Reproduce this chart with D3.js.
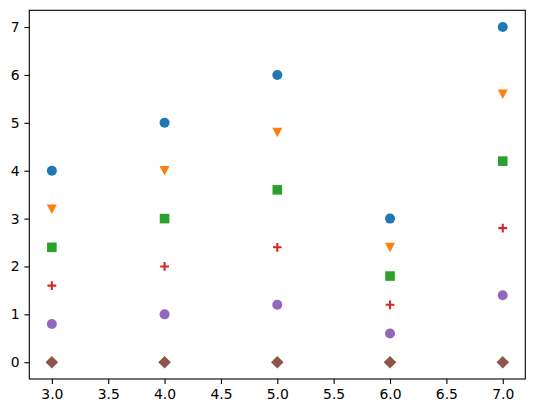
<!DOCTYPE html>
<html>
<head>
<meta charset="utf-8">
<script src="https://cdn.jsdelivr.net/npm/d3@7"></script>
<style>
  body { margin: 0; background: #fff; }
  svg { display: block; }
  .tick text { font-family: "DejaVu Sans", sans-serif; font-size: 13.9px; fill: #000; }
</style>
</head>
<body>
<div id="chart"></div>
<script>
// x positions shared by every series
const xValues = [3, 4, 5, 6, 7];

// one array per series
const seriesCircleBlue = [4, 5, 6, 3, 7];
const seriesTriangleOrange = [3.2, 4, 4.8, 2.4, 5.6];
const seriesSquareGreen = [2.4, 3, 3.6, 1.8, 4.2];
const seriesPlusRed = [1.6, 2, 2.4, 1.2, 2.8];
const seriesCirclePurple = [0.8, 1, 1.2, 0.6, 1.4];
const seriesDiamondBrown = [0, 0, 0, 0, 0];

const xTicks = [3.0, 3.5, 4.0, 4.5, 5.0, 5.5, 6.0, 6.5, 7.0];
const yTicks = [0, 1, 2, 3, 4, 5, 6, 7];

const width = 534;
const height = 413;
const margin = { top: 10.3, right: 8.7, bottom: 34, left: 29.3 };

const svg = d3
  .select("#chart")
  .append("svg")
  .attr("width", width)
  .attr("height", height);

const x = d3
  .scaleLinear()
  .domain([2.8, 7.2])
  .range([margin.left, width - margin.right]);

const y = d3
  .scaleLinear()
  .domain([-0.35, 7.35])
  .range([height - margin.bottom, margin.top]);

// marker shapes, drawn around (0,0)
const markers = {
  circle: "M5,0A5,5 0 1,1 -5,0A5,5 0 1,1 5,0Z",
  triangleDown: "M-5,-4.6L5,-4.6L0,4.9Z",
  square: "M-4.8,-4.8H4.8V4.8H-4.8Z",
  diamond: "M0,-6.3L6.3,0L0,6.3L-6.3,0Z",
  plus: "M-4.4,0H4.4M0,-4.4V4.4"
};

const series = [
  { values: seriesCircleBlue, shape: "circle", color: "#1f77b4" },
  { values: seriesTriangleOrange, shape: "triangleDown", color: "#ff7f0e" },
  { values: seriesSquareGreen, shape: "square", color: "#2ca02c" },
  { values: seriesPlusRed, shape: "plus", color: "#d62728" },
  { values: seriesCirclePurple, shape: "circle", color: "#9467bd" },
  { values: seriesDiamondBrown, shape: "diamond", color: "#8c564b" }
];

series.forEach(s => {
  svg
    .append("g")
    .selectAll("path")
    .data(s.values.map((v, i) => ({ x: xValues[i], y: v })))
    .enter()
    .append("path")
    .attr("transform", d => `translate(${x(d.x)},${y(d.y)})`)
    .attr("d", markers[s.shape])
    .attr("fill", s.shape === "plus" ? "none" : s.color)
    .attr("stroke", s.shape === "plus" ? s.color : "none")
    .attr("stroke-width", 2.1);
});

// axes
const xAxis = svg
  .append("g")
  .attr("transform", `translate(0,${height - margin.bottom})`)
  .call(
    d3.axisBottom(x)
      .tickValues(xTicks)
      .tickFormat(d3.format(".1f"))
      .tickSize(4.9)
      .tickPadding(4.9)
  );

const yAxis = svg
  .append("g")
  .attr("transform", `translate(${margin.left},0)`)
  .call(
    d3.axisLeft(y)
      .tickValues(yTicks)
      .tickFormat(d3.format("d"))
      .tickSize(4.9)
      .tickPadding(4.9)
  );

[xAxis, yAxis].forEach(a => {
  a.select(".domain").remove();
  a.selectAll(".tick line").attr("stroke", "#000").attr("stroke-width", 1.1);
});

// frame around the plot area
svg
  .append("rect")
  .attr("x", margin.left)
  .attr("y", margin.top)
  .attr("width", width - margin.left - margin.right)
  .attr("height", height - margin.top - margin.bottom)
  .attr("fill", "none")
  .attr("stroke", "#000")
  .attr("stroke-width", 1.1);
</script>
</body>
</html>
